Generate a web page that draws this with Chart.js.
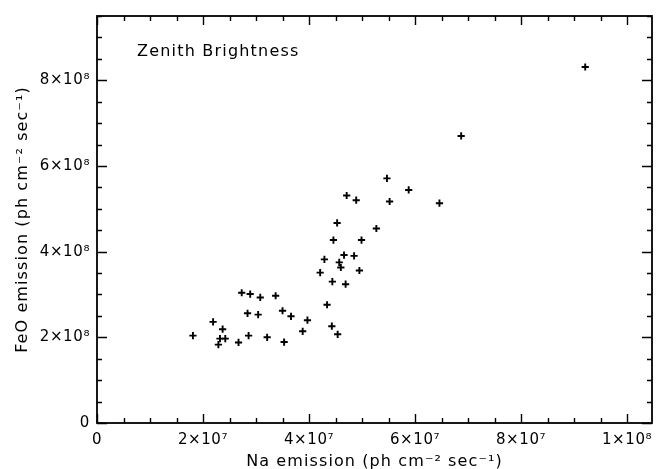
<!DOCTYPE html>
<html><head><meta charset="utf-8">
<script src="https://cdn.jsdelivr.net/npm/chart.js@4/dist/chart.umd.min.js"></script>
<style>html,body{margin:0;padding:0;background:#fff}</style>
</head><body>
<canvas id="c" width="663" height="469"></canvas>
<script>
// Na emission (ph cm^-2 sec^-1)
const naEmission = [
  18.1e6, 21.9e6, 23.7e6, 23.2e6, 24.2e6, 22.9e6, 26.7e6, 28.6e6, 32.1e6, 35.3e6,
  27.3e6, 28.9e6, 30.8e6, 33.7e6, 28.4e6, 30.4e6, 35.0e6, 36.6e6, 39.7e6, 38.8e6,
  43.4e6, 44.3e6, 45.4e6, 42.9e6, 42.1e6, 44.4e6, 46.9e6, 49.5e6, 45.7e6, 46.0e6,
  46.6e6, 48.5e6, 44.6e6, 49.9e6, 45.3e6, 47.1e6, 48.9e6, 52.7e6, 54.7e6, 58.8e6,
  55.2e6, 64.6e6, 68.7e6, 92.1e6
];
// FeO emission (ph cm^-2 sec^-1)
const feoEmission = [
  2.04e8, 2.36e8, 2.19e8, 1.97e8, 1.97e8, 1.83e8, 1.88e8, 2.04e8, 2.00e8, 1.89e8,
  3.04e8, 3.01e8, 2.93e8, 2.97e8, 2.56e8, 2.53e8, 2.62e8, 2.49e8, 2.40e8, 2.14e8,
  2.76e8, 2.26e8, 2.07e8, 3.82e8, 3.51e8, 3.30e8, 3.24e8, 3.56e8, 3.75e8, 3.63e8,
  3.92e8, 3.90e8, 4.27e8, 4.27e8, 4.67e8, 5.31e8, 5.20e8, 4.54e8, 5.71e8, 5.44e8,
  5.17e8, 5.13e8, 6.70e8, 8.31e8
];
const originX = [0];
const originY = [0];

const xTickValues = [0, 2e7, 4e7, 6e7, 8e7, 1e8];
const xTickLabels = ['0', '2×10⁷', '4×10⁷', '6×10⁷', '8×10⁷', '1×10⁸'];
const yTickValues = [0, 2e8, 4e8, 6e8, 8e8];
const yTickLabels = ['0', '2×10⁸', '4×10⁸', '6×10⁸', '8×10⁸'];
const xMin = 0, xMax = 1.047e8, xMinorStep = 5e6, xMajorStep = 2e7;
const yMin = 0, yMax = 9.5e8, yMinorStep = 5e7, yMajorStep = 2e8;
const xTitle = 'Na emission (ph cm⁻² sec⁻¹)';
const yTitle = 'FeO emission (ph cm⁻² sec⁻¹)';
const annotation = 'Zenith Brightness';

const FONT = '"DejaVu Sans", sans-serif';

const spacing = {
  id: 'spacing',
  beforeDraw(chart) { chart.ctx.letterSpacing = '1.1px'; },      // axis titles (drawn with grid layer)
  afterDatasetsDraw(chart) { chart.ctx.letterSpacing = '0.6px'; } // tick labels (z = 1)
};

const frame = {
  id: 'frame',
  afterDraw(chart) {
    const ctx = chart.ctx;
    const xs = chart.scales.x, ys = chart.scales.y;
    const {left, right, top, bottom} = chart.chartArea;
    ctx.save();
    ctx.strokeStyle = '#000';
    ctx.lineWidth = 1.8;
    ctx.strokeRect(left, top, right - left, bottom - top);
    ctx.lineWidth = 1.4;
    ctx.beginPath();
    for (let i = 0; xMin + i * xMinorStep <= xMax + 1; i++) {
      const v = xMin + i * xMinorStep;
      const p = Math.round(xs.getPixelForValue(v)) + 0.5;
      const major = (i % Math.round(xMajorStep / xMinorStep)) === 0;
      const len = major ? 9 : 5;
      ctx.moveTo(p, bottom); ctx.lineTo(p, bottom - len);
      ctx.moveTo(p, top); ctx.lineTo(p, top + len);
    }
    for (let i = 0; yMin + i * yMinorStep <= yMax + 1; i++) {
      const v = yMin + i * yMinorStep;
      const p = Math.round(ys.getPixelForValue(v)) + 0.5;
      const major = (i % Math.round(yMajorStep / yMinorStep)) === 0;
      const len = major ? 10 : 5;
      ctx.moveTo(left, p); ctx.lineTo(left + len, p);
      ctx.moveTo(right, p); ctx.lineTo(right - len, p);
    }
    ctx.stroke();
    ctx.fillStyle = '#000';
    ctx.letterSpacing = '1.2px';
    ctx.font = '16px ' + FONT;
    ctx.textBaseline = 'middle';
    ctx.textAlign = 'left';
    ctx.fillText(annotation, 137, 52);
    ctx.restore();
    ctx.letterSpacing = '0px';
  }
};

new Chart(document.getElementById('c'), {
  type: 'scatter',
  data: {
    datasets: [{
      data: naEmission.map((x, i) => ({x, y: feoEmission[i]})),
      pointStyle: 'cross',
      radius: 3.6,
      borderWidth: 1.9,
      borderColor: '#000',
      backgroundColor: '#000'
    }, {
      data: originX.map((x, i) => ({x, y: originY[i]})),
      pointStyle: 'rect',
      radius: 1.8,
      borderWidth: 0,
      borderColor: '#000',
      backgroundColor: '#000'
    }]
  },
  options: {
    responsive: false,
    animation: false,
    layout: {padding: {top: 11, right: 11, left: 0, bottom: 0}},
    plugins: {legend: {display: false}, tooltip: {enabled: false}},
    scales: {
      x: {
        type: 'linear', min: xMin, max: xMax,
        grid: {display: false, drawTicks: false},
        border: {display: false},
        afterBuildTicks: s => { s.ticks = xTickValues.map(v => ({value: v})); },
        afterFit: s => { s.height = 46; },
        ticks: {
          z: 1, padding: 8, color: '#000', maxRotation: 0, autoSkip: false,
          font: {family: FONT, size: 15},
          callback: (v) => { const i = xTickValues.indexOf(v); return i >= 0 ? xTickLabels[i] : ''; }
        },
        title: {display: true, text: xTitle, color: '#000', font: {family: FONT, size: 16}, padding: {top: 0, bottom: -2}}
      },
      y: {
        type: 'linear', min: yMin, max: yMax,
        grid: {display: false, drawTicks: false},
        border: {display: false},
        afterBuildTicks: s => { s.ticks = yTickValues.map(v => ({value: v})); },
        afterFit: s => { s.width = 97; },
        ticks: {
          z: 1, padding: 7, color: '#000', autoSkip: false,
          font: {family: FONT, size: 15},
          callback: (v) => { const i = yTickValues.indexOf(v); return i >= 0 ? yTickLabels[i] : ''; }
        },
        title: {display: true, text: yTitle, color: '#000', font: {family: FONT, size: 16}, padding: {top: 13, bottom: 0}}
      }
    }
  },
  plugins: [spacing, frame]
});
</script>
</body></html>
